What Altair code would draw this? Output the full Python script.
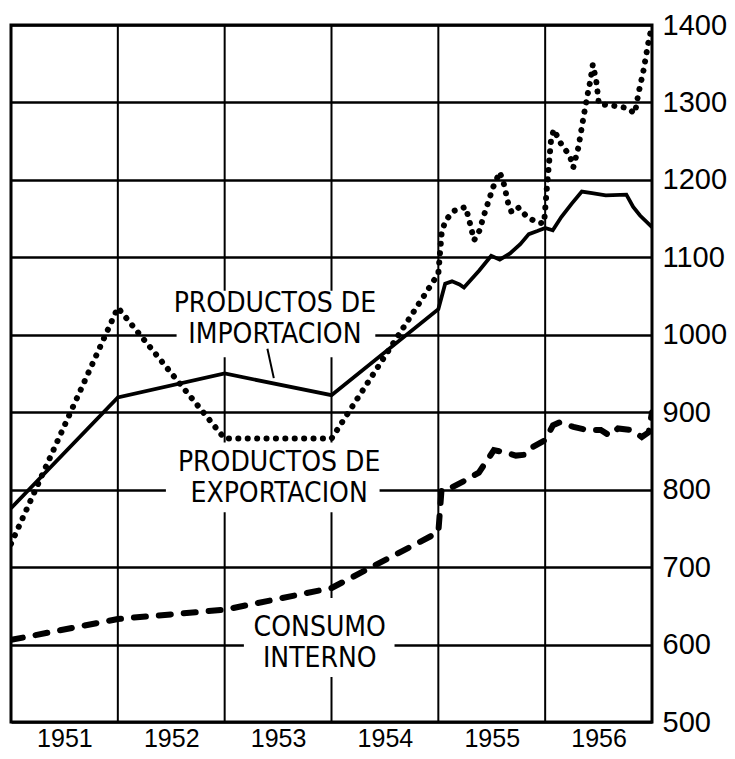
import altair as alt
import pandas as pd

# ---------------- data ----------------
year_labels = [1951.5, 1952.5, 1953.5, 1954.5, 1955.5, 1956.5]
year_bounds = [1952, 1953, 1954, 1955, 1956]
y_ticks = [500, 600, 700, 800, 900, 1000, 1100, 1200, 1300, 1400]

# Productos de exportacion (dotted)
exp_x = [1951.0, 1952.0, 1953.0, 1954.0, 1955.0, 1955.03, 1955.064, 1955.144, 1955.256,
         1955.294, 1955.335, 1955.383, 1955.431, 1955.511, 1955.575, 1955.613, 1955.655,
         1955.687, 1955.751, 1955.831, 1955.927, 1955.99, 1956.016, 1956.054, 1956.08,
         1956.151, 1956.231, 1956.263, 1956.311, 1956.359, 1956.391, 1956.423, 1956.446,
         1956.478, 1956.503, 1956.631, 1956.76, 1956.84, 1956.872, 1956.92, 1956.968, 1957.0]
exp_y = [730, 1035, 866, 866, 1079, 1130, 1147, 1160, 1165,
         1145, 1122, 1134, 1156, 1190, 1210, 1195, 1169,
         1158, 1164, 1152, 1145, 1144, 1190, 1250, 1265,
         1246, 1231, 1216, 1242, 1281, 1306, 1328, 1349,
         1328, 1298, 1296, 1293, 1286, 1311, 1341, 1379, 1399]

# Productos de importacion (solid)
imp_x = [1951.0, 1952.0, 1953.0, 1954.0, 1955.0, 1955.064, 1955.128, 1955.198, 1955.24,
         1955.383, 1955.495, 1955.575, 1955.671, 1955.767, 1955.847, 1955.927, 1956.0,
         1956.071, 1956.151, 1956.247, 1956.343, 1956.439, 1956.567, 1956.76, 1956.824,
         1956.888, 1957.0]
imp_y = [776, 919, 950, 922, 1033, 1066, 1069, 1065, 1061,
         1083, 1102, 1097, 1105, 1117, 1130, 1134, 1138,
         1135, 1152, 1169, 1185, 1183, 1180, 1181, 1165,
         1154, 1139]

# Consumo interno (dashed)
con_x = [1951.0, 1952.0, 1953.0, 1954.0, 1955.0, 1955.03, 1955.126, 1955.252, 1955.379,
         1955.457, 1955.52, 1955.631, 1955.726, 1955.804, 1955.883, 1956.0, 1956.073,
         1956.137, 1956.265, 1956.393, 1956.521, 1956.601, 1956.681, 1956.808, 1956.904,
         1956.968, 1957.0]
con_y = [606, 633, 645, 673, 745, 800, 803, 812, 822,
         838, 851, 848, 844, 845, 855, 864, 883,
         887, 881, 877, 877, 870, 879, 877, 868,
         874, 900]

label_text = ["PRODUCTOS DE\nIMPORTACION", "PRODUCTOS DE\nEXPORTACION", "CONSUMO\nINTERNO"]
label_x = [1953.47, 1953.51, 1953.89]
label_y = [1040, 834, 622]   # first line of each label

# white panels behind the labels (they interrupt the grid)
box_x1 = [1952.55, 1952.45, 1953.18]
box_x2 = [1954.41, 1954.45, 1954.59]
box_v1 = [971, 771, 558]
box_v2 = [1057, 861, 660]

leader_x = [1953.40]
leader_x2 = [1953.46]
leader_y = [982]
leader_y2 = [944]

# ---------------- chart ----------------
def frame(xs, ys):
    return pd.DataFrame({"x": xs, "v": ys, "i": list(range(len(xs)))})

xs = alt.Scale(domain=[1951, 1957], nice=False, zero=False)
ys = alt.Scale(domain=[500, 1400], nice=False, zero=False)

LABEL_FONT = "Liberation Sans Narrow, DejaVu Sans Condensed, Liberation Sans, sans-serif"

x_axis = alt.Axis(values=year_labels, labelExpr="'' + floor(datum.value)", grid=False,
                  ticks=False, domain=False, title=None, labelFont="Liberation Sans",
                  labelFontSize=25, labelColor="black", labelPadding=4, labelFlush=False)
y_axis = alt.Axis(orient="right", values=y_ticks, labelExpr="'' + datum.value", grid=True,
                  gridColor="black", gridWidth=2.5, gridOpacity=1, domain=False, ticks=False,
                  title=None, labelFont="Liberation Sans", labelFontSize=29, labelColor="black",
                  labelPadding=10, labelFlush=False, labelOverlap=False)


def X(field):
    return alt.X(field, scale=xs, axis=x_axis)


def Y(field):
    return alt.Y(field, scale=ys, axis=y_axis)


vgrid = alt.Chart(pd.DataFrame({"b": year_bounds})).mark_rule(color="black", strokeWidth=2).encode(
    x=X("b:Q")
)

boxes = alt.Chart(pd.DataFrame({"x1": box_x1, "x2": box_x2, "v1": box_v1, "v2": box_v2})).mark_rect(
    color="white"
).encode(x=X("x1:Q"), x2="x2:Q", y=Y("v1:Q"), y2="v2:Q")

con = alt.Chart(frame(con_x, con_y)).mark_line(
    color="black", strokeWidth=6, strokeDash=[12, 13], strokeCap="round", clip=True
).encode(x=X("x:Q"), y=Y("v:Q"), order="i:Q")

imp = alt.Chart(frame(imp_x, imp_y)).mark_line(color="black", strokeWidth=3.8, clip=True).encode(
    x=X("x:Q"), y=Y("v:Q"), order="i:Q")

exp = alt.Chart(frame(exp_x, exp_y)).mark_line(
    color="black", strokeWidth=6, strokeDash=[0.1, 9.3], strokeCap="round", clip=True
).encode(x=X("x:Q"), y=Y("v:Q"), order="i:Q")

leader = alt.Chart(pd.DataFrame({"x": leader_x, "x2": leader_x2, "y": leader_y, "y2": leader_y2})).mark_rule(
    color="black", strokeWidth=2
).encode(x=X("x:Q"), x2="x2:Q", y=Y("y:Q"), y2="y2:Q")

labels_df = pd.DataFrame({"t": label_text, "x": label_x, "v": label_y})
text = alt.Chart(labels_df).mark_text(
    font=LABEL_FONT, fontSize=28, lineBreak="\n", lineHeight=31, align="center", baseline="middle",
    color="black"
).encode(x=X("x:Q"), y=Y("v:Q"), text="t:N")

chart = alt.layer(vgrid, boxes, con, imp, exp, leader, text).properties(
    width=719, height=743,
    autosize=alt.AutoSizeParams(type="fit", contains="padding"),
    padding={"left": 3, "top": 3, "right": 0, "bottom": 0},
    background="white",
).configure_view(stroke="black", strokeWidth=3)

chart.save("out.html", embed_options={"renderer": "svg", "actions": False})
